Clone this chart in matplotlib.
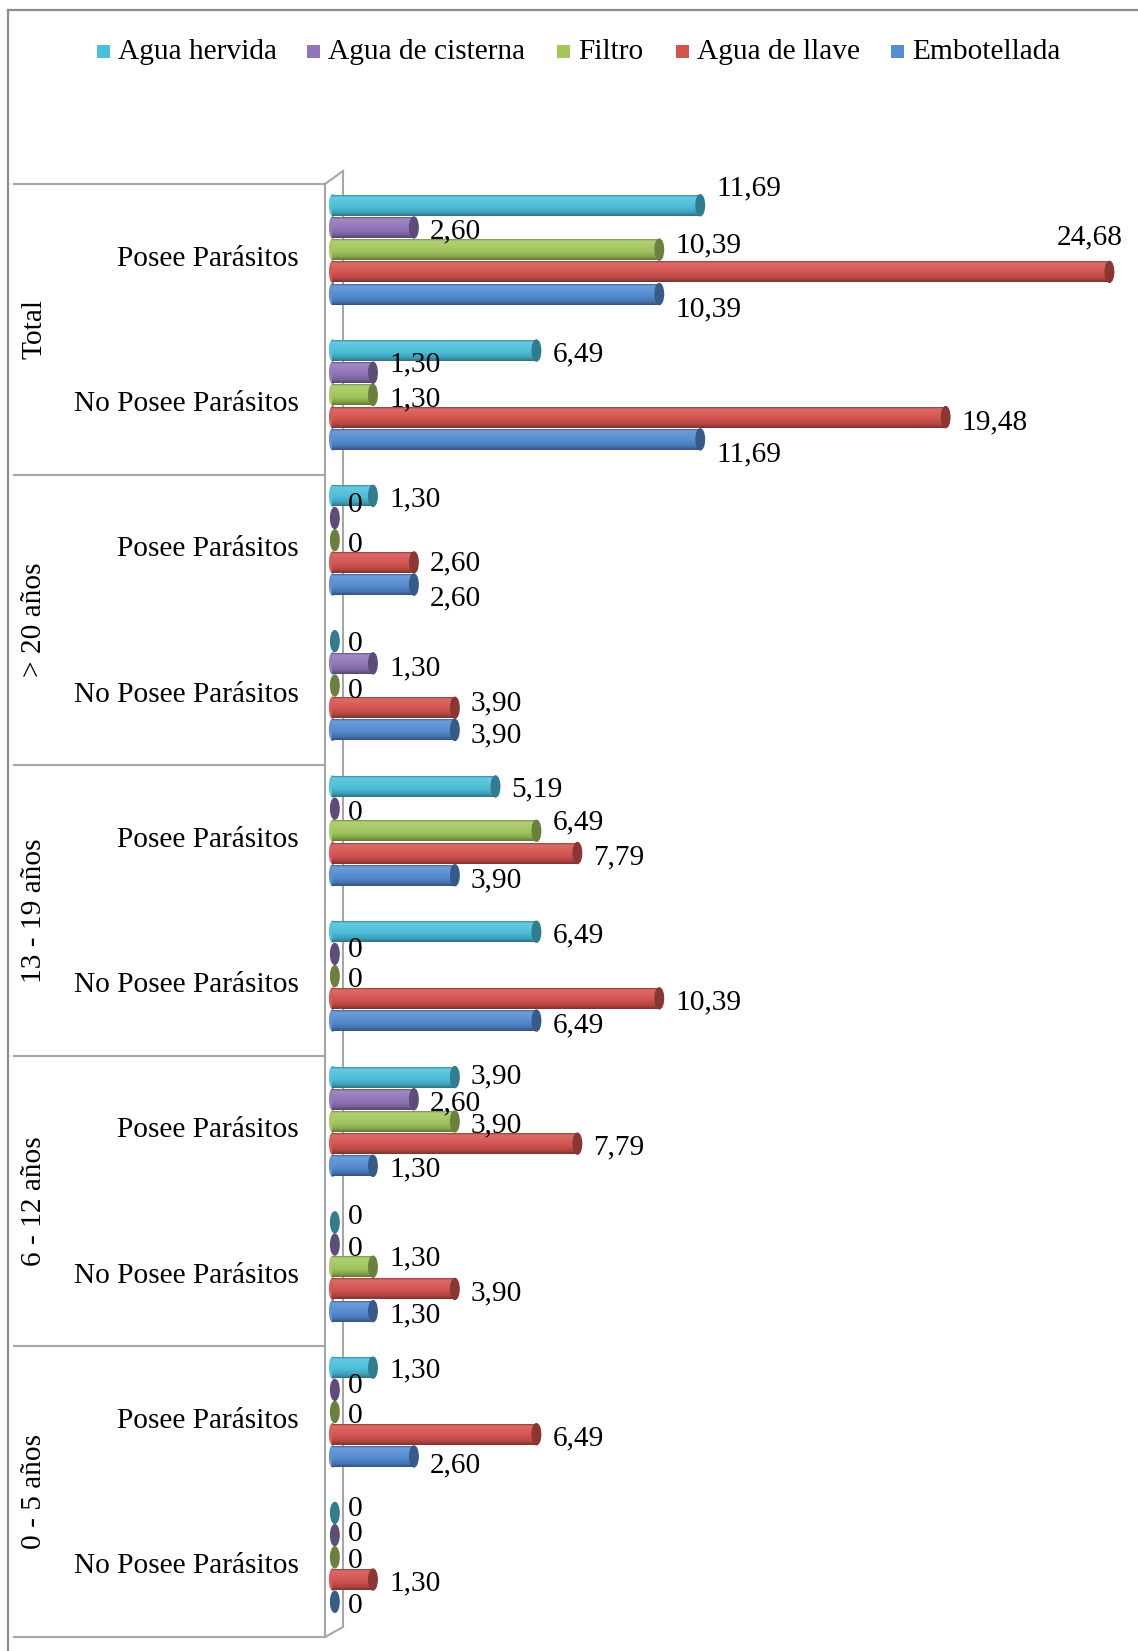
import numpy as np
import matplotlib
matplotlib.use("Agg")
import matplotlib.pyplot as plt
from matplotlib.patches import Ellipse, Rectangle
from matplotlib.colors import to_rgb

# ---------------------------------------------------------------- data
series = ["Agua hervida", "Agua de cisterna", "Filtro", "Agua de llave", "Embotellada"]
age_groups = ["Total", "> 20 años", "13 - 19 años", "6 - 12 años", "0 - 5 años"]
conditions = ["Posee Parásitos", "No Posee Parásitos"]

# one value per (age group, condition), top to bottom
agua_hervida = [11.69, 6.49, 1.30, 0, 5.19, 6.49, 3.90, 0, 1.30, 0]
agua_cisterna = [2.60, 1.30, 0, 1.30, 0, 0, 2.60, 0, 0, 0]
filtro = [10.39, 1.30, 0, 0, 6.49, 0, 3.90, 1.30, 0, 0]
agua_llave = [24.68, 19.48, 2.60, 3.90, 7.79, 10.39, 7.79, 3.90, 6.49, 1.30]
embotellada = [10.39, 11.69, 2.60, 3.90, 3.90, 6.49, 1.30, 1.30, 2.60, 0]

values = [agua_hervida, agua_cisterna, filtro, agua_llave, embotellada]
colors = ["#4CBFDB", "#9075B8", "#A3C65E", "#D4534F", "#558CD2"]

# vertical nudges of value labels (pixels, positive = down)
label_dy = [
    [-17, 4, -4, -34, 15],
    [4, -8, 4, 5, 15],
    [4, -13, 5, 1, 14],
    [3, 5, 5, -4, 5],
    [3, 4, -8, 4, 5],
    [4, -4, 4, 4, 5],
    [-1, 4, 4, 4, 4],
    [-5, 4, -8, 4, 4],
    [3, -4, 4, 4, 9],
    [-4, -1, 4, 4, 4],
]

# ---------------------------------------------------------------- layout
W, H, DPI = 1138, 1651, 100
FONT = "Liberation Serif"
FS = 21.2
GRID = "#A6A6A6"

fig = plt.figure(figsize=(W / DPI, H / DPI), dpi=DPI)
fig.patch.set_facecolor("white")

# pixel-space overlay for frame, category table and legend
bg = fig.add_axes([0, 0, 1, 1], zorder=0)
bg.set_xlim(0, W)
bg.set_ylim(H, 0)
bg.axis("off")

TOP, BOT = 184, 1637
X0 = 332
PX_PER_UNIT = 31.5
XMAX = 25

ax = fig.add_axes([X0 / W, 1 - BOT / H, PX_PER_UNIT * XMAX / W, (BOT - TOP) / H], zorder=2)
ax.set_xlim(0, XMAX)
ax.set_ylim(len(agua_hervida), 0)
ax.axis("off")
ax.patch.set_alpha(0)

slot_px = (BOT - TOP) / len(agua_hervida)
pitch = 22.2 / slot_px
bar_h = 21.0 / slot_px
depth_shift = -7.0 / slot_px
cap_w = 8.5 / PX_PER_UNIT

# outer chart border
bg.plot([8, 8], [10, H], color="#8C8C8C", lw=1.6)
bg.plot([8, W], [10, 10], color="#8C8C8C", lw=1.6)

# 3D wall edges
FW, BW = 325, 343
bg.plot([FW, FW], [TOP, BOT], color=GRID, lw=1.5)
bg.plot([BW, BW], [TOP - 13, BOT - 10], color=GRID, lw=1.5)
bg.plot([FW, BW], [TOP, TOP - 13], color=GRID, lw=1.5)
bg.plot([FW, BW], [BOT, BOT - 10], color=GRID, lw=1.5)

# category table
group_px = (BOT - TOP) / len(age_groups)
for g in range(len(age_groups) + 1):
    y = TOP + g * group_px
    bg.plot([14, FW], [y, y], color=GRID, lw=1.5)
for g, name in enumerate(age_groups):
    bg.text(34, TOP + (g + 0.5) * group_px, name, rotation=90, ha="center", va="center",
            family=FONT, fontsize=FS)
    for c, cond in enumerate(conditions):
        slot = g * len(conditions) + c
        bg.text(299, TOP + (slot + 0.5) * slot_px + 2, cond, ha="right", va="center",
                family=FONT, fontsize=FS)

# legend
legend_x = [97, 307, 557, 676, 891]
for name, col, lx in zip(series, colors, legend_x):
    bg.add_patch(Rectangle((lx, 45), 13, 13, color=col, lw=0))
    bg.text(lx + 21, 52, name, ha="left", va="center", family=FONT, fontsize=FS)


def mix(c, other, t):
    c = np.array(to_rgb(c))
    return c * (1 - t) + np.array(other) * t


def cylinder_shade(col, n=40):
    stops = [
        (0.00, mix(col, (0, 0, 0), 0.25)),
        (0.08, mix(col, (1, 1, 1), 0.15)),
        (0.30, mix(col, (1, 1, 1), 0.08)),
        (0.60, mix(col, (0, 0, 0), 0.02)),
        (0.85, mix(col, (0, 0, 0), 0.18)),
        (1.00, mix(col, (0, 0, 0), 0.40)),
    ]
    t = np.linspace(0, 1, n)
    pos = [s[0] for s in stops]
    rgb = np.stack([np.interp(t, pos, [s[1][k] for s in stops]) for k in range(3)], axis=1)
    return rgb.reshape(n, 1, 3)


def fmt(v):
    return "0" if v == 0 else f"{v:.2f}".replace(".", ",")


n_slots = len(agua_hervida)
slots = np.arange(n_slots)
pt = 72.0 / DPI
for k, (vals, col) in enumerate(zip(values, colors)):
    yc = slots + 0.5 + (k - 2) * pitch + depth_shift
    bars = ax.barh(yc, vals, height=bar_h, color=col, lw=0, zorder=3)
    shade = cylinder_shade(col)
    cap_col = mix(col, (0, 0, 0), 0.35)
    for i, (rect, v, y) in enumerate(zip(bars, vals, yc)):
        if v > 0:
            im = ax.imshow(shade, extent=[0, v, y + bar_h / 2, y - bar_h / 2],
                           origin="upper", aspect="auto", zorder=3.5, interpolation="bilinear")
            im.set_clip_path(rect)
            ax.add_patch(Ellipse((0.02, y), cap_w * 0.7, bar_h, color=mix(col, (1, 1, 1), 0.05),
                                 zorder=3.4, clip_on=False))
        ax.add_patch(Ellipse((max(v, 0.09), y), cap_w, bar_h, color=cap_col, zorder=4,
                             clip_on=False))
        dy = label_dy[i][k]
        if v >= 20 and dy < -25:
            ax.annotate(fmt(v), xy=(v, y), xytext=(13 * pt, -dy * pt), textcoords="offset points",
                        ha="right", va="center", family=FONT, fontsize=FS, zorder=6,
                        annotation_clip=False)
        else:
            ax.annotate(fmt(v), xy=(v, y), xytext=(16 * pt, -dy * pt), textcoords="offset points",
                        ha="left", va="center", family=FONT, fontsize=FS, zorder=6,
                        annotation_clip=False)

ax.set_xlim(0, XMAX)
ax.set_ylim(n_slots, 0)

fig.savefig("out.png", dpi=DPI, facecolor="white")
